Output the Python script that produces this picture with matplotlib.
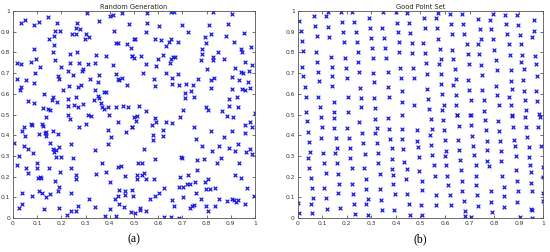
import matplotlib
matplotlib.use("Agg")
import numpy as np
from matplotlib import pyplot as plt

# ---- panel (a): random generation ----
rand_x = [
    0.033, 0.048, 0.085, 0.109, 0.143, 0.180, 0.304, 0.354, 0.402, 0.413, 0.452, 0.481,
    0.172, 0.171, 0.196, 0.264, 0.259, 0.278, 0.242, 0.259, 0.300, 0.298, 0.314, 0.150,
    0.419, 0.424, 0.435, 0.473, 0.486, 0.503,
    0.085, 0.171, 0.164, 0.236, 0.263, 0.492,
    0.017, 0.033, 0.076, 0.096, 0.112, 0.172, 0.198, 0.236, 0.274, 0.310, 0.339, 0.344, 0.386, 0.413,
    0.092, 0.186, 0.191, 0.227, 0.248, 0.284, 0.288, 0.317, 0.357, 0.351, 0.427, 0.434, 0.439, 0.449, 0.471,
    0.017, 0.055, 0.085, 0.207, 0.233, 0.267, 0.281, 0.339, 0.375, 0.383,
    0.034, 0.030, 0.127, 0.164, 0.161, 0.227, 0.262, 0.289, 0.336, 0.351, 0.354, 0.362, 0.369,
    0.061, 0.085, 0.182, 0.227, 0.253, 0.267, 0.145, 0.123, 0.154, 0.138, 0.229, 0.234, 0.309,
    0.322, 0.375, 0.393, 0.398, 0.426, 0.455, 0.475,
    # upper right
    0.552, 0.652, 0.664, 0.828, 0.906, 0.552, 0.605, 0.700, 0.811, 0.887, 0.955,
    0.550, 0.725, 0.818, 0.879, 0.500, 0.588, 0.612, 0.631, 0.646, 0.652, 0.683, 0.795, 0.799, 0.915,
    0.782, 0.846, 0.941, 0.945, 0.985, 0.490, 0.501, 0.530, 0.551, 0.618, 0.599, 0.647, 0.652, 0.660,
    0.671, 0.778, 0.781, 0.826, 0.828, 0.871, 0.959, 0.986, 0.591, 0.632, 0.682, 0.802, 0.916, 0.944,
    0.952, 0.975, 0.536, 0.581, 0.588, 0.657, 0.658, 0.687, 0.714, 0.744, 0.766, 0.820, 0.829, 0.820,
    0.904, 0.935, 0.972, 0.981, 0.709, 0.734, 0.712, 0.747, 0.904, 0.893, 0.924, 0.945, 0.960, 0.521,
    0.548, 0.704, 0.799, 0.806, 0.862, 0.891, 0.928, 0.999, 0.511, 0.500, 0.588, 0.690, 0.883, 0.908,
    # lower left
    0.004, 0.026, 0.017, 0.039, 0.044, 0.051, 0.076, 0.078, 0.044, 0.062, 0.081, 0.120, 0.124, 0.131,
    0.107, 0.135, 0.138, 0.164, 0.186, 0.152, 0.165, 0.171, 0.176, 0.189, 0.179, 0.200, 0.099, 0.099,
    0.055, 0.062, 0.150, 0.196, 0.102, 0.110, 0.117, 0.175, 0.191, 0.185, 0.079, 0.109, 0.120, 0.136,
    0.152, 0.037, 0.037, 0.023, 0.127, 0.191, 0.240, 0.260, 0.241, 0.225, 0.268, 0.241, 0.247, 0.241,
    0.262, 0.262, 0.271, 0.303, 0.340, 0.343, 0.369, 0.386, 0.391, 0.405, 0.391, 0.402, 0.313, 0.337,
    0.379, 0.402, 0.423, 0.434, 0.437, 0.424, 0.437, 0.457, 0.464, 0.464, 0.433, 0.448, 0.433, 0.466,
    0.492, 0.464,
    # lower right
    0.510, 0.493, 0.573, 0.589, 0.579, 0.578, 0.619, 0.619, 0.632, 0.659, 0.747, 0.758, 0.781, 0.818,
    0.821, 0.853, 0.870, 0.893, 0.903, 0.918, 0.930, 0.960, 0.960, 0.979, 0.988, 0.963, 0.979, 0.986,
    0.541, 0.516, 0.533, 0.585, 0.695, 0.697, 0.759, 0.788, 0.842, 0.858, 0.936, 0.512, 0.512, 0.541,
    0.532, 0.551, 0.581, 0.690, 0.722, 0.718, 0.733, 0.754, 0.759, 0.793, 0.805, 0.685, 0.701, 0.625,
    0.797, 0.816, 0.834, 0.919, 0.944, 0.966, 0.493, 0.497, 0.585, 0.605, 0.566, 0.656, 0.667, 0.703,
    0.733, 0.740, 0.747, 0.756, 0.777, 0.799, 0.804, 0.833, 0.851, 0.884, 0.905, 0.912, 0.921, 0.930,
    0.959, 0.996, 0.525, 0.525, 0.548, 0.486, 0.503, 0.626, 0.651, 0.685,
]
rand_y = [
    0.944, 0.958, 0.935, 0.949, 0.971, 0.944, 0.992, 0.950, 0.976, 0.982, 0.992, 0.936,
    0.904, 0.879, 0.906, 0.941, 0.919, 0.914, 0.891, 0.891, 0.888, 0.866, 0.875, 0.863,
    0.906, 0.848, 0.848, 0.842, 0.823, 0.863,
    0.819, 0.835, 0.800, 0.792, 0.800, 0.783,
    0.748, 0.743, 0.756, 0.767, 0.732, 0.764, 0.730, 0.748, 0.751, 0.743, 0.751, 0.786, 0.783, 0.738,
    0.703, 0.687, 0.671, 0.709, 0.692, 0.712, 0.720, 0.672, 0.692, 0.655, 0.698, 0.671, 0.668, 0.679, 0.644,
    0.673, 0.665, 0.652, 0.617, 0.639, 0.633, 0.641, 0.617, 0.607, 0.610,
    0.633, 0.620, 0.599, 0.583, 0.572, 0.575, 0.583, 0.551, 0.572, 0.588, 0.578, 0.556, 0.537,
    0.564, 0.556, 0.559, 0.543, 0.548, 0.537, 0.529, 0.530, 0.521, 0.489, 0.497, 0.479, 0.497,
    0.492, 0.529, 0.537, 0.500, 0.535, 0.543, 0.537,
    # upper right
    0.990, 0.998, 0.994, 0.994, 0.984, 0.944, 0.930, 0.935, 0.931, 0.939, 0.895,
    0.898, 0.898, 0.891, 0.880, 0.863, 0.866, 0.859, 0.831, 0.853, 0.863, 0.853, 0.875, 0.847, 0.853,
    0.819, 0.802, 0.815, 0.804, 0.827, 0.783, 0.772, 0.783, 0.743, 0.788, 0.770, 0.748, 0.767, 0.780,
    0.776, 0.764, 0.792, 0.776, 0.764, 0.770, 0.756, 0.738, 0.735, 0.700, 0.696, 0.719, 0.724, 0.708,
    0.700, 0.711, 0.700, 0.673, 0.636, 0.677, 0.649, 0.642, 0.647, 0.641, 0.671, 0.668, 0.677, 0.628,
    0.682, 0.665, 0.657, 0.629, 0.604, 0.612, 0.581, 0.583, 0.623, 0.575, 0.585, 0.623, 0.618, 0.540,
    0.518, 0.521, 0.535, 0.522, 0.518, 0.540, 0.535, 0.508, 0.495, 0.489, 0.482, 0.487, 0.492, 0.489,
    # lower left
    0.364, 0.299, 0.256, 0.420, 0.439, 0.395, 0.455, 0.449, 0.347, 0.335, 0.316, 0.455, 0.444, 0.412,
    0.404, 0.395, 0.414, 0.420, 0.404, 0.363, 0.331, 0.318, 0.327, 0.343, 0.296, 0.296, 0.267, 0.240,
    0.240, 0.216, 0.240, 0.224, 0.192, 0.200, 0.195, 0.179, 0.152, 0.131, 0.107, 0.128, 0.123, 0.099,
    0.117, 0.123, 0.067, 0.050, 0.045, 0.046, 0.120, 0.035, 0.032, 0.016, 0.059, 0.359, 0.288, 0.240,
    0.208, 0.188, 0.439, 0.455, 0.327, 0.211, 0.267, 0.224, 0.427, 0.391, 0.359, 0.176, 0.093, 0.053,
    0.011, 0.043, 0.093, 0.104, 0.136, 0.011, 0.069, 0.053, 0.109, 0.128, 0.248, 0.251, 0.463, 0.416,
    0.439, 0.204,
    # lower right
    0.471, 0.442, 0.447, 0.466, 0.399, 0.375, 0.423, 0.395, 0.463, 0.458, 0.439, 0.383, 0.348, 0.420,
    0.324, 0.348, 0.391, 0.339, 0.420, 0.323, 0.359, 0.410, 0.447, 0.463, 0.442, 0.321, 0.335, 0.307,
    0.331, 0.264, 0.264, 0.286, 0.296, 0.288, 0.280, 0.284, 0.267, 0.291, 0.267, 0.208, 0.187, 0.216,
    0.208, 0.187, 0.188, 0.200, 0.206, 0.165, 0.165, 0.176, 0.232, 0.176, 0.190, 0.152, 0.149, 0.147,
    0.139, 0.139, 0.145, 0.208, 0.192, 0.144, 0.136, 0.107, 0.107, 0.120, 0.091, 0.085, 0.059, 0.101,
    0.050, 0.056, 0.064, 0.120, 0.091, 0.056, 0.032, 0.056, 0.091, 0.080, 0.091, 0.088, 0.077, 0.088,
    0.069, 0.104, 0.048, 0.040, 0.032, 0.027, 0.024, 0.003, 0.005, 0.002,
]

# ---- panel (b): good point set ----
good_x = [
    # upper left
    0.007, 0.012, 0.020, 0.024, 0.020, 0.024, 0.030, 0.036, 0.035,
    0.067, 0.071, 0.078, 0.074, 0.081, 0.085, 0.089, 0.085, 0.091,
    0.116, 0.125, 0.123, 0.128, 0.135, 0.139, 0.139, 0.142, 0.150, 0.150,
    0.175, 0.182, 0.186, 0.190, 0.193, 0.196, 0.200, 0.204, 0.207,
    0.223, 0.231, 0.236, 0.241, 0.245, 0.247, 0.251, 0.254, 0.258, 0.257,
    0.291, 0.295, 0.299, 0.302, 0.306, 0.308, 0.311, 0.312, 0.315,
    0.349, 0.345, 0.352, 0.356, 0.358, 0.367, 0.369, 0.372,
    0.399, 0.403, 0.410, 0.413, 0.413, 0.417, 0.421, 0.423, 0.426,
    0.447, 0.453, 0.457, 0.464, 0.467, 0.471, 0.474, 0.475,
    # upper right
    0.571, 0.620, 0.670, 0.795, 0.844, 0.894, 0.513, 0.562, 0.735, 0.783, 0.961, 0.625, 0.674, 0.849,
    0.898, 0.517, 0.567, 0.741, 0.788, 0.963, 0.630, 0.678, 0.853, 0.903, 0.571, 0.955, 0.796, 0.747,
    0.512, 0.688, 0.734, 0.860, 0.907, 0.578, 0.627, 0.799, 0.518, 0.693, 0.738, 0.864, 0.914, 0.964,
    0.583, 0.634, 0.806, 0.524, 0.575, 0.697, 0.745, 0.907, 0.968, 0.639, 0.812, 0.867, 0.921, 0.528,
    0.582, 0.749, 0.975, 0.643, 0.695, 0.869, 0.917, 0.585, 0.634, 0.808, 0.525, 0.697, 0.751, 0.873,
    0.921, 0.968, 0.589, 0.646, 0.812, 0.860, 0.531, 0.704, 0.758, 0.925, 0.975, 0.596, 0.646, 0.819,
    0.867, 0.535, 0.586, 0.758, 0.930, 0.650, 0.704, 0.873, 0.982,
    # lower left
    0.096, 0.148, 0.315, 0.369, 0.037, 0.251, 0.423, 0.101, 0.150, 0.200, 0.322, 0.373, 0.423, 0.044,
    0.261, 0.315, 0.484, 0.096, 0.157, 0.209, 0.376, 0.426, 0.047, 0.268, 0.322, 0.484, 0.162, 0.213,
    0.383, 0.430, 0.051, 0.105, 0.152, 0.274, 0.326, 0.044, 0.213, 0.383, 0.491, 0.494, 0.108, 0.159,
    0.326, 0.434, 0.048, 0.223, 0.272, 0.383, 0.444, 0.114, 0.163, 0.335, 0.387, 0.495, 0.053, 0.277,
    0.441, 0.170, 0.220, 0.390, 0.058, 0.109, 0.278, 0.335, 0.166, 0.224, 0.396, 0.447, 0.064, 0.114,
    0.285, 0.339, 0.003, 0.055, 0.230, 0.278, 0.453, 0.119, 0.173, 0.345, 0.394, 0.007, 0.060, 0.234,
    0.285, 0.457,
    # lower right
    0.650, 0.700, 0.873, 0.925, 0.541, 0.592, 0.762, 0.815, 0.985, 0.657, 0.707, 0.877, 0.930, 0.979,
    0.548, 0.597, 0.765, 0.819, 0.537, 0.934, 0.600, 0.654, 0.711, 0.769, 0.823, 0.880, 0.544, 0.714,
    0.884, 0.941, 0.989, 0.602, 0.657, 0.772, 0.826, 0.548, 0.598, 0.718, 0.887, 0.941, 0.661, 0.772,
    0.826, 0.555, 0.605, 0.724, 0.944, 0.998, 0.663, 0.779, 0.887, 0.559, 0.609, 0.727, 0.833, 0.948,
    0.505, 0.670, 0.894, 0.998, 0.613, 0.727, 0.840, 0.948, 0.508, 0.670, 0.785, 0.898, 0.998, 0.562,
    0.619, 0.731, 0.840, 0.955, 0.677, 0.785, 0.894, 0.998, 0.564, 0.623, 0.734, 0.840, 0.948, 0.501,
    0.681, 0.789, 0.955, 0.508, 0.681, 0.704, 0.903, 0.955,
]
good_y = [
    # upper left
    0.953, 0.904, 0.856, 0.807, 0.732, 0.684, 0.632, 0.584, 0.512,
    0.978, 0.929, 0.881, 0.804, 0.756, 0.708, 0.660, 0.583, 0.536,
    0.976, 0.998, 0.925, 0.876, 0.780, 0.732, 0.684, 0.636, 0.559, 0.512,
    0.997, 0.949, 0.900, 0.852, 0.772, 0.724, 0.676, 0.583, 0.512,
    0.997, 0.945, 0.897, 0.852, 0.804, 0.753, 0.705, 0.628, 0.579, 0.535,
    0.968, 0.920, 0.872, 0.820, 0.772, 0.703, 0.655, 0.579, 0.531,
    0.994, 0.920, 0.872, 0.823, 0.775, 0.705, 0.631, 0.583,
    0.994, 0.944, 0.897, 0.849, 0.804, 0.724, 0.676, 0.612, 0.560,
    0.989, 0.941, 0.892, 0.844, 0.796, 0.724, 0.676, 0.547,
    # upper right
    0.989, 0.987, 0.986, 0.984, 0.981, 0.981, 0.968, 0.965, 0.961, 0.957, 0.957, 0.939, 0.937, 0.936,
    0.933, 0.920, 0.917, 0.913, 0.912, 0.905, 0.891, 0.888, 0.888, 0.884, 0.865, 0.876, 0.865, 0.865,
    0.844, 0.839, 0.839, 0.839, 0.839, 0.817, 0.812, 0.812, 0.796, 0.791, 0.791, 0.788, 0.788, 0.785,
    0.769, 0.767, 0.764, 0.748, 0.743, 0.743, 0.740, 0.756, 0.745, 0.719, 0.716, 0.713, 0.721, 0.697,
    0.695, 0.692, 0.687, 0.671, 0.668, 0.663, 0.665, 0.647, 0.644, 0.640, 0.623, 0.618, 0.620, 0.623,
    0.615, 0.612, 0.599, 0.596, 0.592, 0.587, 0.575, 0.571, 0.571, 0.568, 0.563, 0.547, 0.547, 0.544,
    0.547, 0.526, 0.523, 0.518, 0.523, 0.499, 0.496, 0.496, 0.502,
    # lower left
    0.486, 0.483, 0.480, 0.483, 0.467, 0.462, 0.499, 0.438, 0.435, 0.433, 0.435, 0.430, 0.430, 0.414,
    0.411, 0.409, 0.425, 0.387, 0.387, 0.387, 0.382, 0.382, 0.366, 0.361, 0.361, 0.371, 0.339, 0.339,
    0.337, 0.334, 0.318, 0.315, 0.313, 0.310, 0.313, 0.291, 0.289, 0.286, 0.342, 0.294, 0.265, 0.265,
    0.265, 0.270, 0.242, 0.241, 0.241, 0.238, 0.238, 0.218, 0.213, 0.213, 0.210, 0.226, 0.194, 0.189,
    0.189, 0.165, 0.165, 0.162, 0.146, 0.146, 0.141, 0.141, 0.120, 0.117, 0.114, 0.117, 0.098, 0.098,
    0.093, 0.088, 0.072, 0.069, 0.069, 0.066, 0.069, 0.045, 0.048, 0.040, 0.040, 0.024, 0.024, 0.021,
    0.016, 0.016,
    # lower right
    0.499, 0.499, 0.494, 0.490, 0.478, 0.474, 0.474, 0.467, 0.486, 0.446, 0.451, 0.441, 0.441, 0.438,
    0.430, 0.425, 0.425, 0.419, 0.401, 0.390, 0.377, 0.377, 0.398, 0.374, 0.374, 0.377, 0.353, 0.350,
    0.347, 0.342, 0.350, 0.326, 0.329, 0.329, 0.326, 0.302, 0.299, 0.302, 0.299, 0.297, 0.278, 0.274,
    0.273, 0.254, 0.254, 0.254, 0.254, 0.246, 0.230, 0.250, 0.230, 0.205, 0.205, 0.205, 0.201, 0.222,
    0.181, 0.181, 0.181, 0.197, 0.157, 0.157, 0.152, 0.169, 0.133, 0.130, 0.130, 0.130, 0.120, 0.109,
    0.109, 0.109, 0.104, 0.130, 0.082, 0.077, 0.077, 0.082, 0.061, 0.061, 0.056, 0.053, 0.045, 0.061,
    0.034, 0.029, 0.037, 0.013, 0.008, 0.005, 0.005, 0.002,
]

ticks = np.arange(0, 1.01, 0.1)
tick_labels = ["0", "0.1", "0.2", "0.3", "0.4", "0.5", "0.6", "0.7", "0.8", "0.9", "1"]


def style_axes(ax, title):
    ax.set_xlim(0, 1)
    ax.set_ylim(0, 1)
    ax.set_xticks(ticks)
    ax.set_yticks(ticks)
    ax.set_xticklabels(tick_labels)
    ax.set_yticklabels(tick_labels)
    ax.tick_params(direction="in", length=2.5, width=0.5, labelsize=4.3,
                   top=True, right=True, pad=2, colors="#333333")
    for sp in ax.spines.values():
        sp.set_linewidth(0.6)
        sp.set_color("#555555")
    ax.set_title(title, fontsize=4.8, pad=1.5, color="#222222")


fig = plt.figure(figsize=(5.5, 2.52), dpi=100)
ax1 = fig.add_axes([0.0236, 0.135, 0.44, 0.821])
ax2 = fig.add_axes([0.541, 0.135, 0.447, 0.821])

ax1.scatter(rand_x, rand_y, marker="x", s=7, c="#1818e0", linewidths=0.9)
ax2.scatter(good_x, good_y, marker="x", s=7, c="#1818e0", linewidths=0.9)
style_axes(ax1, "Random Generation")
style_axes(ax2, "Good Point Set")

fig.text(0.244, 0.04, "(a)", fontsize=8.5, family="Liberation Serif", ha="center")
fig.text(0.764, 0.04, "(b)", fontsize=8.5, family="Liberation Serif", ha="center")

fig.savefig("out.png", dpi=100)
